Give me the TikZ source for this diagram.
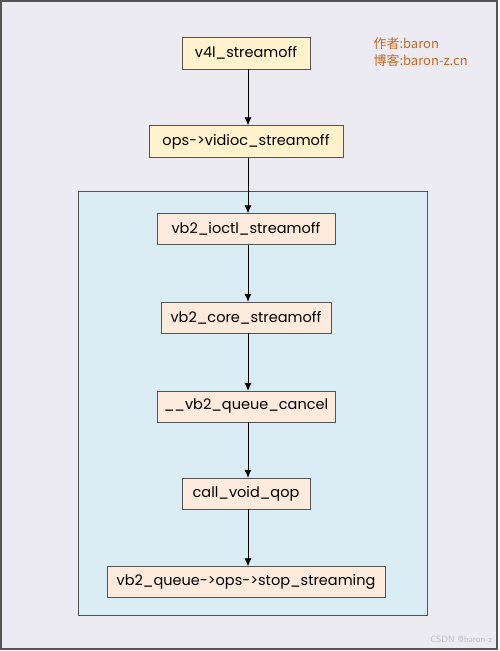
\documentclass[tikz,border=0pt]{standalone}
\usepackage{fontspec}
\usetikzlibrary{arrows.meta}
\setmainfont{Poppins}
\newfontfamily\cjk{Noto Sans CJK SC}
\definecolor{bgcol}{HTML}{EDEBF2}
\definecolor{innercol}{HTML}{DAEDF4}
\definecolor{framecol}{HTML}{555555}
\definecolor{yellowfill}{HTML}{FFF2CC}
\definecolor{peachfill}{HTML}{FCEBDC}
\definecolor{authorcol}{HTML}{C46A24}
\tikzset{
  topbox/.style={draw=framecol,fill=yellowfill,minimum height=32pt,font=\fontsize{14.5}{16}\selectfont},
  vbbox/.style={draw=framecol,fill=peachfill,minimum height=31pt,font=\fontsize{14.5}{16}\selectfont},
  callarrow/.style={-{Latex[length=8pt,width=7pt]},line width=0.8pt}
}
\begin{document}
\begin{tikzpicture}[x=1pt,y=-1pt]
\useasboundingbox (0,0) rectangle (499,651);
\draw[draw=framecol,fill=bgcol,line width=1.5pt] (1,1) rectangle (497,649);
\draw[draw=framecol,fill=innercol,line width=1pt] (78,191) rectangle (427,615);
\node[topbox,minimum width=128pt] (streamoff) at (246,53) {v4l\_streamoff};
\node[topbox,minimum width=194pt] (vidioc) at (246,141.5) {ops->vidioc\_streamoff};
\node[vbbox,minimum width=178pt] (ioctl) at (246,229) {vb2\_ioctl\_streamoff};
\node[vbbox,minimum width=170pt] (core) at (246,317.5) {vb2\_core\_streamoff};
\node[vbbox,minimum width=178pt] (cancel) at (246,406.5) {\_\_vb2\_queue\_cancel};
\node[vbbox,minimum width=128pt] (qop) at (246,493.5) {call\_void\_qop};
\node[vbbox,minimum width=278pt] (stop) at (246,582) {vb2\_queue->ops->stop\_streaming};
\node[anchor=north west,align=left,text=authorcol,font=\cjk\fontsize{13}{17}\selectfont] (author) at (370,34) {作者:baron\\博客:baron-z.cn};
\node[anchor=south east,text=black!25,font=\sffamily\fontsize{9}{10}\selectfont] (mark) at (496,646) {CSDN @baron-z};
\draw[callarrow] ([xshift=2pt]streamoff.south) -- ([xshift=2pt]vidioc.north);
\draw[callarrow] ([xshift=2pt]vidioc.south) -- ([xshift=2pt]ioctl.north);
\draw[callarrow] ([xshift=2pt]ioctl.south) -- ([xshift=2pt]core.north);
\draw[callarrow] ([xshift=2pt]core.south) -- ([xshift=2pt]cancel.north);
\draw[callarrow] ([xshift=2pt]cancel.south) -- ([xshift=2pt]qop.north);
\draw[callarrow] ([xshift=2pt]qop.south) -- ([xshift=2pt]stop.north);
\end{tikzpicture}
\end{document}
